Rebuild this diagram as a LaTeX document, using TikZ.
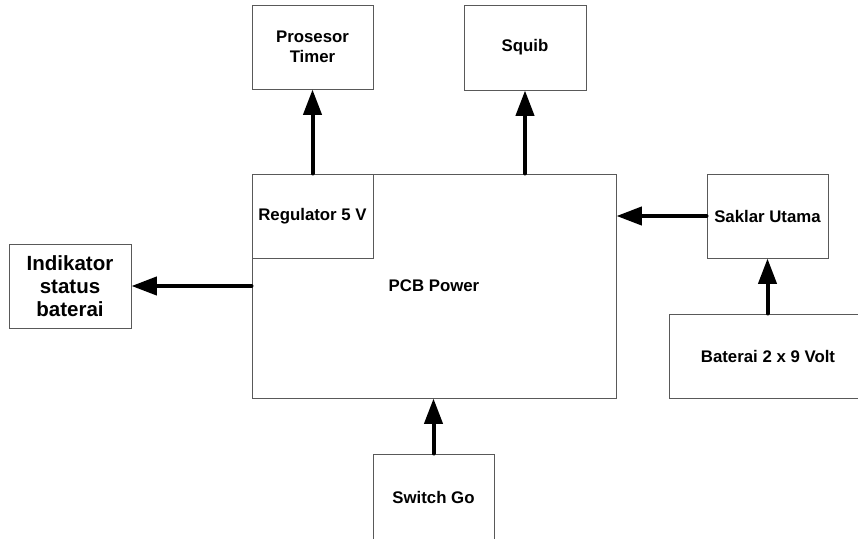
\documentclass[tikz,border=0pt]{standalone}
\usepackage{fontspec}
\setmainfont{Liberation Sans}
\usepackage{tikz}
\usetikzlibrary{arrows.meta}
\tikzset{
  blok/.style     = {draw=black!65, line width=0.75pt, fill=white, align=center,
                     font=\fontsize{12.6}{15}\selectfont\bfseries, inner sep=0pt},
  blokbig/.style  = {blok, font=\fontsize{15.4}{17.25}\selectfont\bfseries},
  panah/.style    = {-{Triangle[length=19pt, width=13.5pt]}, line width=3pt, line cap=round, black},
}

\begin{document}
\begin{tikzpicture}[x=0.75pt,y=-0.75pt]
  \useasboundingbox (0,0) rectangle (858,539);

  % blocks
  \node[blok, minimum width=364*0.75pt, minimum height=224*0.75pt] (pcb) at (434,286) {PCB Power};
  \node[blok, minimum width=121*0.75pt, minimum height=84*0.75pt] (reg) at (312.5,216) {Regulator 5 V};
  \node[blok, minimum width=121*0.75pt, minimum height=84*0.75pt] (timer) at (312.5,47) {Prosesor\\Timer};
  \node[blok, minimum width=122*0.75pt, minimum height=85*0.75pt] (squib) at (525,47.5) {Squib};
  \node[blok, minimum width=121*0.75pt, minimum height=84*0.75pt] (saklar) at (767.5,216) {Saklar Utama};
  \node[blok, minimum width=198*0.75pt, minimum height=84*0.75pt] (baterai) at (768,356) {Baterai 2 x 9 Volt};
  \node[blok, minimum width=121*0.75pt, minimum height=86*0.75pt] (switch) at (433.5,497) {Switch Go};
  \node[blokbig, minimum width=122*0.75pt, minimum height=84*0.75pt] (indik) at (70,286) {Indikator\\status\\baterai};

  % arrows
  \draw[panah] (reg.north) -- (timer.south);
  \draw[panah] (squib.south |- pcb.north) -- (squib.south);
  \draw[panah] (saklar.west) -- (pcb.east |- saklar.west);
  \draw[panah] (saklar.south |- baterai.north) -- (saklar.south);
  \draw[panah] (switch.north) -- (switch.north |- pcb.south);
  \draw[panah] (pcb.west) -- (indik.east);
\end{tikzpicture}
\end{document}
